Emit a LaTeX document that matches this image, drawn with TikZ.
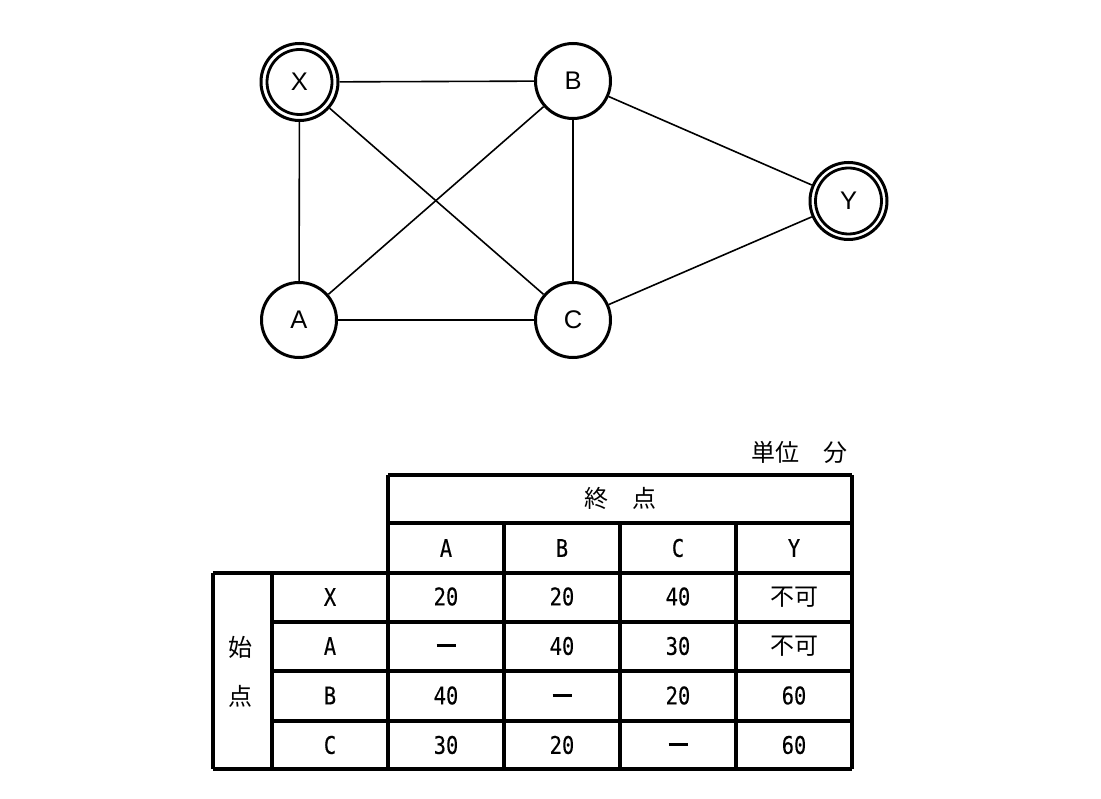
\documentclass[tikz,border=0pt]{standalone}
\usepackage{fontspec}
\newfontfamily\jp{Noto Sans CJK JP}
\newfontfamily\mono[FakeStretch=0.84,FakeBold=0.3]{DejaVu Sans Mono}
\newfontfamily\lab{Liberation Sans}
\begin{document}
\begin{tikzpicture}[x=1pt,y=-1pt,
  vert/.style={circle,draw,line width=3pt,minimum size=75pt,inner sep=0pt,font=\lab\fontsize{25.5}{25.5}\selectfont},
  term/.style={vert,minimum size=77pt},
  edge/.style={line width=1.6pt},
  grid/.style={line width=3.1pt},
  cell/.style={font=\mono\fontsize{24.3}{24.3}\selectfont,inner sep=0pt},
  jcell/.style={font=\jp\fontsize{24}{24}\selectfont,inner sep=0pt},
  barcell/.style={inner sep=0pt}]
\useasboundingbox (0,0) rectangle (1101,799);
% graph
\node[term] (X) at (299.5,82) {X};
\node[vert] (B) at (573,81) {B};
\node[term] (Y) at (848.5,201) {Y};
\node[vert] (A) at (299,320) {A};
\node[vert] (C) at (573,320) {C};
\draw[line width=2.8pt] (X.center) circle (32.5);
\draw[line width=2.8pt] (Y.center) circle (33);
\draw[edge] (X) -- (B);
\draw[edge] (X) -- (A);
\draw[edge] (X) -- (C);
\draw[edge] (A) -- (B);
\draw[edge] (A) -- (C);
\draw[edge] (B) -- (C);
\draw[edge] (B) -- (Y);
\draw[edge] (C) -- (Y);
% table lines
\draw[grid] (388,475) -- (852,475);
\draw[grid] (388,523) -- (852,523);
\draw[grid] (213,573) -- (852,573);
\foreach \y in {622,671,721} \draw[grid] (272,\y) -- (852,\y);
\draw[grid] (213,769) -- (852,769);
\draw[grid] (213,573) -- (213,769);
\draw[grid] (272,573) -- (272,769);
\draw[grid] (388,475) -- (388,769);
\foreach \x in {504,620,736} \draw[grid] (\x,523) -- (\x,769);
\draw[grid] (852,475) -- (852,769);
% texts
\node[jcell] (unit) at (799,452) {単位　分};
\node[jcell] (end) at (620,498) {終　点};
\node[jcell] (st1) at (240,647) {始};
\node[jcell] (st2) at (240,696) {点};
\node[cell] (hA) at (446,548) {A};
\node[cell] (hB) at (562,548) {B};
\node[cell] (hC) at (678,548) {C};
\node[cell] (hY) at (794,548) {Y};
\node[cell] (rX) at (330,597) {X};
\node[cell] (rA) at (330,646) {A};
\node[cell] (rB) at (330,695.5) {B};
\node[cell] (rC) at (330,745) {C};
% row X
\node[cell] (xa) at (446,596.5) {20};
\node[cell] (xb) at (562,596.5) {20};
\node[cell] (xc) at (678,596.5) {40};
\node[jcell] (xy) at (794,597) {不可};
% row A
\node[barcell] (aa) at (446,645.5) {\rule{19pt}{3pt}};
\node[cell] (ab) at (562,646) {40};
\node[cell] (ac) at (678,646) {30};
\node[jcell] (ay) at (794,646.5) {不可};
% row B
\node[cell] (ba) at (446,695.5) {40};
\node[barcell] (bb) at (562,695) {\rule{19pt}{3pt}};
\node[cell] (bc) at (678,695.5) {20};
\node[cell] (by) at (794,695.5) {60};
% row C
\node[cell] (ca) at (446,745) {30};
\node[cell] (cb) at (562,745) {20};
\node[barcell] (cc) at (678,744.5) {\rule{19pt}{3pt}};
\node[cell] (cy) at (794,745) {60};
\end{tikzpicture}
\end{document}
